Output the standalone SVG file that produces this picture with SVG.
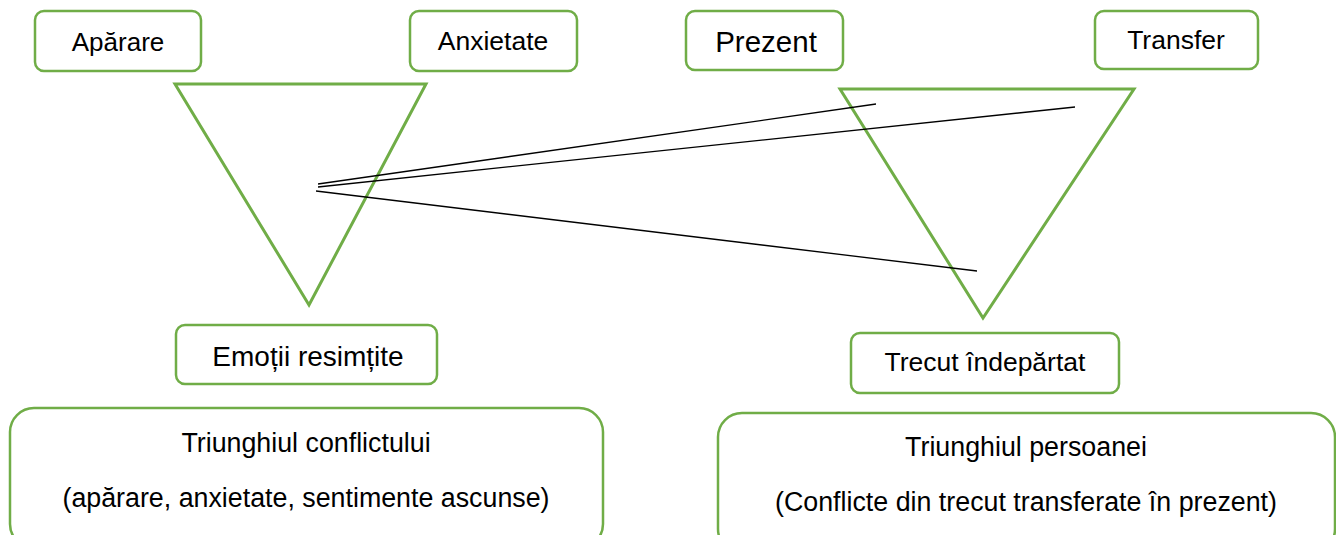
<svg xmlns="http://www.w3.org/2000/svg" width="1336" height="535" viewBox="0 0 1336 535">
<style>
.box{fill:#fff;stroke:#70ad47;stroke-width:2.5}
.tri{fill:none;stroke:#70ad47;stroke-width:3}
.t{font-family:"Liberation Sans",Arial,sans-serif;fill:#000;text-anchor:middle}
.ln{stroke:#000;stroke-width:1.3;fill:none}
</style>
<rect width="1336" height="535" fill="#fff"/>
<g id="tri-left"><polygon class="tri" points="175,84 426,84 309,305"/></g>
<g id="tri-right"><polygon class="tri" points="840,89 1134,89 983,318"/></g>
<g id="n-aparare"><rect class="box" x="35" y="11" width="166" height="60" rx="9"/><text class="t" x="118" y="51" font-size="26">Apărare</text></g>
<g id="n-anxietate"><rect class="box" x="410" y="11" width="167" height="60" rx="9"/><text class="t" x="493" y="50" font-size="26.5">Anxietate</text></g>
<g id="n-prezent"><rect class="box" x="686" y="11" width="157" height="59" rx="9"/><text class="t" x="766" y="52" font-size="29.5">Prezent</text></g>
<g id="n-transfer"><rect class="box" x="1095" y="11" width="163" height="58" rx="9"/><text class="t" x="1176" y="49" font-size="26.5">Transfer</text></g>
<g id="n-emotii"><rect class="box" x="176" y="325" width="261" height="59" rx="9"/><text class="t" x="308" y="366" font-size="28">Emoții resimțite</text></g>
<g id="n-trecut"><rect class="box" x="851" y="333" width="268" height="60" rx="9"/><text class="t" x="985" y="371" font-size="26.5">Trecut îndepărtat</text></g>
<g id="n-conflict"><rect class="box" x="10" y="408" width="593" height="140" rx="24"/><text class="t" x="306" y="452" font-size="26.8">Triunghiul conflictului</text><text class="t" x="306" y="507" font-size="26.8">(apărare, anxietate, sentimente ascunse)</text></g>
<g id="n-persoana"><rect class="box" x="718" y="413" width="617" height="140" rx="24"/><text class="t" x="1026" y="456" font-size="26.8">Triunghiul persoanei</text><text class="t" x="1026" y="511" font-size="26.8">(Conflicte din trecut transferate în prezent)</text></g>
<g id="connectors">
<line class="ln" x1="318" y1="184" x2="876" y2="104"/>
<line class="ln" x1="318" y1="187" x2="1075" y2="107"/>
<line class="ln" x1="316" y1="191" x2="977" y2="271"/>
</g>
</svg>
